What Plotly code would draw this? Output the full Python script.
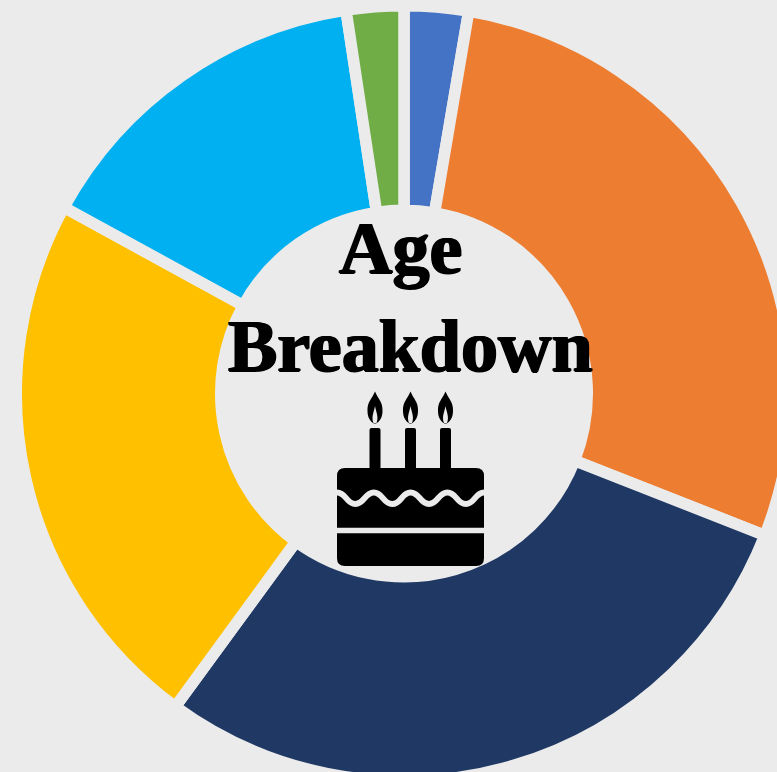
import plotly.graph_objects as go

labels = ["Group 1", "Group 2", "Group 3", "Group 4", "Group 5", "Group 6"]
values = [2.67, 28.3, 29.08, 22.94, 14.64, 2.39]
colors = ["#4472C4", "#ED7D31", "#1F3864", "#FFC000", "#00B0F0", "#70AD47"]
title_lines = ["Age", "Breakdown"]

BG = "#EBEBEB"
W, H = 808, 787
PAD_X, PAD_Y = 16.25, 5.75


def X(p):
    return p / W


def Y(p):
    return 1 - p / H


def path(cmds):
    out = []
    for c in cmds:
        if isinstance(c, str):
            out.append(c)
        else:
            out.append(f"{X(c[0]):.5f},{Y(c[1]):.5f}")
    return " ".join(out)


fig = go.Figure(go.Pie(
    labels=labels, values=values, sort=False, direction="clockwise", rotation=0,
    hole=0.4726, textinfo="none", hoverinfo="label+percent",
    marker=dict(colors=colors, line=dict(color=BG, width=11.5)),
    domain=dict(x=[PAD_X / W, 1 - PAD_X / W], y=[PAD_Y / H, 1 - PAD_Y / H]),
    showlegend=False,
))

shapes = []
black = dict(fillcolor="black", line=dict(width=0), xref="paper", yref="paper", type="path")

# cake body, rounded corners
l, r, t, b, c = 337, 484, 468, 566, 8
shapes.append(dict(path=path(["M", (l + c, t), "L", (r - c, t), "Q", (r, t), (r, t + c), "L", (r, b - c),
                              "Q", (r, b), (r - c, b), "L", (l + c, b), "Q", (l, b), (l, b - c),
                              "L", (l, t + c), "Q", (l, t), (l + c, t), "Z"]), **black))
# candles and flames
for cx in (375, 410.5, 445.5):
    shapes.append(dict(path=path(["M", (cx - 5.5, 470), "L", (cx - 5.5, 430), "Q", (cx - 5.5, 428), (cx - 3.5, 428),
                                  "L", (cx + 3.5, 428), "Q", (cx + 5.5, 428), (cx + 5.5, 430),
                                  "L", (cx + 5.5, 470), "Z"]), **black))
    shapes.append(dict(path=path(["M", (cx, 391.5), "C", (cx + 3, 399), (cx + 8, 402), (cx + 7.5, 411),
                                  "C", (cx + 7.5, 418), (cx + 4, 422), (cx + 1, 423.5), "L", (cx - 1, 423.5),
                                  "C", (cx - 4, 422), (cx - 7.5, 418), (cx - 7.5, 411),
                                  "C", (cx - 8, 402), (cx - 3, 399), (cx, 391.5), "Z"]), **black))
    shapes.append(dict(path=path(["M", (cx, 406), "C", (cx + 1, 412), (cx + 4, 417), (cx + 1.5, 423),
                                  "L", (cx - 1.5, 423), "C", (cx - 4, 417), (cx - 1, 412), (cx, 406), "Z"]),
                       type="path", xref="paper", yref="paper", fillcolor=BG, line=dict(width=0)))
# icing wave and layer line
wave = ["M", (337, 492.5)]
xs = [337, 355.4, 373.8, 392.2, 410.6, 429, 447.4, 465.8, 484]
ys = [492.5, 504, 492.5, 504, 492.5, 504, 492.5, 504, 492.5]
for i in range(len(xs) - 1):
    mid = (xs[i] + xs[i + 1]) / 2
    wave += ["C", (mid, ys[i]), (mid, ys[i + 1]), (xs[i + 1], ys[i + 1])]
shapes.append(dict(type="path", xref="paper", yref="paper", path=path(wave), line=dict(color=BG, width=6)))
shapes.append(dict(type="line", xref="paper", yref="paper", x0=X(337), x1=X(484), y0=Y(530.5), y1=Y(530.5),
                   line=dict(color=BG, width=5.5)))

text_font = dict(family="Liberation Serif", size=74, color="black",
                 shadow="1px 0px 0px black, -1px 0px 0px black, 0px 1px 0px black")
annotations = [
    dict(text=f"<b>{title_lines[0]}</b>", x=X(400.5), y=Y(275), xref="paper", yref="paper", xanchor="center",
         yanchor="bottom", showarrow=False, font=text_font, yshift=-16),
    dict(text=f"<b>{title_lines[1]}</b>", x=X(410), y=Y(373), xref="paper", yref="paper", xanchor="center",
         yanchor="bottom", showarrow=False, font=text_font, yshift=-16),
]

fig.update_layout(width=W, height=H, margin=dict(l=0, r=0, t=0, b=0), paper_bgcolor=BG, plot_bgcolor=BG,
                  shapes=shapes, annotations=annotations)

fig.write_html("out.html", config=dict(displayModeBar=False),
               post_script="document.body.style.margin='0';document.documentElement.style.overflow='hidden';document.body.style.overflow='hidden';document.body.style.background='#EBEBEB';")
